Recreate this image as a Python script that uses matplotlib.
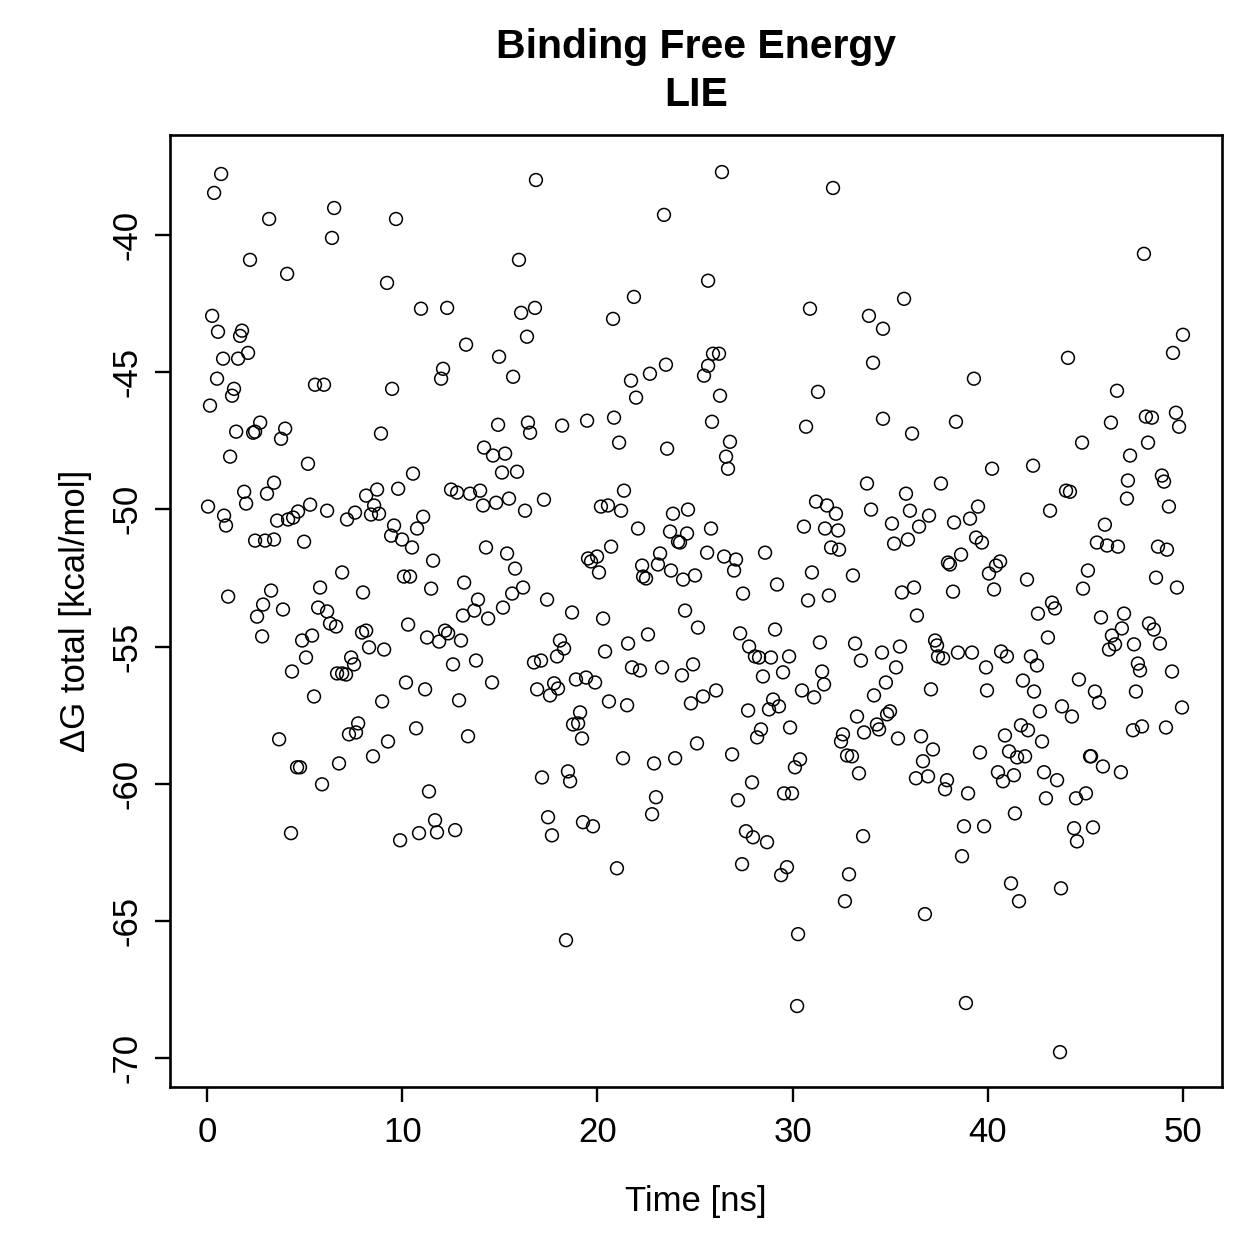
import matplotlib
matplotlib.use("Agg")
import matplotlib.pyplot as plt

# Time [ns] and Delta G total [kcal/mol]
time_ns = [
 0.72,0.36,6.51,3.18,6.40,2.20,4.10,0.26,0.56,1.79,1.69,0.82,1.59,2.10,0.51,1.38,1.28,0.15,5.53,5.99,
 1.49,2.36,2.46,2.72,4.00,3.79,1.18,5.17,3.43,3.07,1.90,2.00,0.05,0.87,0.97,3.59,5.28,4.66,4.41,4.15,
 6.15,7.17,7.58,2.46,2.97,3.43,4.97,6.92,1.08,3.28,2.87,3.89,5.79,5.69,6.15,2.56,7.99,
 2.82,6.30,6.61,7.94,8.15,5.38,4.87,5.07,4.35,7.38,7.53,6.66,6.92,7.12,5.48,7.74,7.27,7.63,3.69,4.61,4.76,6.76,5.89,4.30,
 16.85,9.68,15.98,9.22,10.96,12.30,16.09,16.80,16.39,13.27,14.96,12.09,11.99,15.68,9.48,8.91,14.91,16.44,16.55,14.19,
 14.65,15.27,15.11,15.88,10.55,8.15,8.71,8.56,9.79,12.50,12.81,13.47,13.99,14.14,14.81,15.47,16.29,8.40,8.81,9.58,
 11.07,10.76,9.43,9.99,10.50,11.58,14.29,15.37,15.78,10.09,10.40,11.48,13.17,16.19,15.63,13.88,13.69,13.11,14.40,15.16,
 10.30,8.30,9.07,11.27,12.19,12.35,11.89,13.01,12.60,13.78,16.75,17.11,10.19,11.17,8.97,12.91,14.60,16.91,10.71,9.27,
 13.37,8.50,11.37,11.68,10.86,11.78,12.71,9.89,
 23.41,25.67,21.87,20.80,23.51,22.69,21.72,21.98,25.46,25.67,25.92,26.23,25.87,18.19,19.47,20.85,21.11,23.57,17.26,21.36,
 20.18,20.54,21.21,23.87,24.64,22.08,23.72,24.59,24.13,24.23,25.82,20.70,25.62,19.52,19.67,19.98,20.08,23.21,23.10,22.29,
 22.34,22.49,23.77,24.39,25.00,17.42,18.70,20.29,24.49,
 25.15,22.59,21.57,18.08,18.29,17.93,20.39,21.77,22.18,23.31,24.33,24.90,17.78,17.98,17.57,18.90,19.42,19.88,20.59,21.52,
 24.79,25.41,19.11,18.75,19.01,19.21,25.10,21.31,22.90,23.98,17.16,18.49,18.60,23.00,22.80,17.47,17.67,19.26,19.77,21.00,18.39,
 26.38,32.07,30.89,33.91,34.63,34.12,31.30,26.28,30.69,34.63,26.79,26.59,26.69,33.81,31.20,31.76,32.22,34.02,30.58,31.66,
 32.33,26.49,27.10,27.00,28.59,31.97,32.38,30.99,33.09,27.46,29.20,30.79,31.86,
 27.31,29.10,27.77,28.07,28.28,28.89,29.82,31.40,33.20,34.58,33.50,28.48,29.51,31.51,31.61,30.48,31.10,26.08,27.72,29.00,
 28.79,29.30,34.17,34.78,29.87,28.38,28.18,32.58,32.48,33.30,33.66,34.32,34.43,34.84,34.99,26.90,30.38,30.12,32.79,33.04,
 33.40,27.92,27.20,29.56,29.97,27.61,27.97,28.69,33.61,27.41,29.71,29.41,32.89,32.68,30.28,30.23,
 35.71,39.29,38.37,36.12,40.22,42.32,37.60,35.81,36.01,36.99,36.48,35.09,35.20,35.91,38.27,39.09,39.50,39.40,39.70,43.19,
 37.96,38.06,38.63,40.63,40.42,40.06,42.01,35.60,36.22,38.22,40.32,36.37,42.57,43.29,43.44,
 48.00,50.00,49.49,44.11,46.62,46.31,48.10,48.41,49.64,49.80,44.83,48.21,47.29,47.18,47.13,48.92,49.03,49.28,44.01,44.21,
 46.00,45.59,46.11,46.67,48.72,49.18,45.13,44.88,48.62,49.69,
 43.08,37.30,37.40,37.45,37.71,38.47,39.19,35.50,35.30,40.68,40.98,42.21,42.52,39.91,37.09,39.96,41.80,42.37,42.67,43.80,
 35.40,36.58,37.19,39.60,40.88,41.70,42.06,42.78,41.09,41.50,41.91,36.68,36.32,36.94,37.91,37.81,38.99,40.52,40.78,41.34,
 42.88,43.55,42.98,41.39,38.78,39.81,38.68,41.19,41.60,43.75,36.78,38.88,43.70,
 45.80,46.98,46.87,46.36,48.26,48.51,48.82,47.49,46.21,46.52,47.69,47.80,49.44,44.67,45.49,45.70,47.59,44.31,49.95,47.44,
 47.90,49.13,45.24,45.29,45.90,46.82,44.52,45.03,44.42,44.57,45.39,
]
delta_g = [
 -37.78,-38.47,-39.02,-39.42,-40.11,-40.91,-41.42,-42.95,-43.53,-43.49,-43.68,-44.51,-44.51,-44.30,-45.24,-45.61,-45.86,-46.22,-45.46,-45.46,
 -47.17,-47.21,-47.17,-46.84,-47.06,-47.43,-48.08,-48.34,-49.03,-49.43,-49.36,-49.79,-49.90,-50.23,-50.59,-50.41,-49.83,-50.08,-50.30,-50.37,
 -50.05,-50.37,-50.12,-51.14,-51.14,-51.10,-51.18,-52.30,-53.18,-52.96,-53.47,-53.65,-52.85,-53.58,-53.72,-53.91,-53.03,
 -54.63,-54.16,-54.27,-54.49,-54.42,-54.60,-54.78,-55.40,-55.91,-55.40,-55.65,-55.98,-55.98,-56.02,-56.82,-57.80,-58.20,-58.13,-58.38,-59.40,-59.40,-59.26,-60.02,-61.80,
 -38.00,-39.42,-40.91,-41.75,-42.69,-42.66,-42.84,-42.66,-43.71,-44.00,-44.44,-44.88,-45.24,-45.17,-45.61,-47.24,-46.92,-46.84,-47.21,-47.75,
 -48.04,-47.97,-48.66,-48.63,-48.70,-49.50,-49.28,-49.86,-49.25,-49.28,-49.39,-49.43,-49.32,-49.86,-49.76,-49.61,-50.05,-50.19,-50.16,-50.59,
 -50.27,-50.70,-50.96,-51.10,-51.39,-51.87,-51.39,-51.61,-52.16,-52.45,-52.45,-52.89,-52.67,-52.85,-53.07,-53.29,-53.69,-53.87,-53.98,-53.58,
 -54.20,-55.03,-55.11,-54.67,-54.42,-54.52,-54.82,-54.78,-55.65,-55.51,-55.58,-55.51,-56.31,-56.56,-57.00,-56.96,-56.31,-56.56,-57.98,-58.46,
 -58.27,-59.00,-60.28,-61.33,-61.80,-61.77,-61.69,-62.06,
 -39.27,-41.67,-42.26,-43.06,-44.73,-45.06,-45.31,-45.93,-45.13,-44.77,-44.33,-44.33,-46.81,-46.95,-46.77,-46.66,-47.57,-47.79,-49.65,-49.32,
 -49.90,-49.86,-50.05,-50.16,-50.01,-50.70,-50.81,-50.88,-51.18,-51.21,-50.70,-51.36,-51.58,-51.79,-51.90,-51.72,-52.30,-51.61,-52.01,-52.05,
 -52.45,-52.52,-52.23,-52.56,-52.41,-53.29,-53.76,-53.98,-53.69,
 -54.31,-54.56,-54.89,-54.78,-55.07,-55.36,-55.18,-55.76,-55.87,-55.76,-56.05,-55.65,-56.34,-56.53,-56.78,-56.20,-56.13,-56.31,-57.00,-57.14,
 -57.07,-56.82,-57.40,-57.84,-57.80,-58.35,-58.53,-59.07,-59.26,-59.07,-59.77,-59.55,-59.91,-60.49,-61.11,-61.22,-61.88,-61.40,-61.55,-63.08,-65.70,
 -37.71,-38.29,-42.69,-42.95,-43.42,-44.66,-45.72,-45.86,-46.99,-46.70,-47.54,-48.08,-48.52,-49.06,-49.72,-49.86,-50.16,-50.01,-50.63,-50.70,
 -50.77,-51.72,-51.83,-52.23,-51.58,-51.39,-51.47,-52.30,-52.41,-53.07,-52.74,-53.32,-53.14,
 -54.52,-54.38,-55.00,-55.36,-55.40,-55.40,-55.36,-54.85,-54.89,-55.22,-55.51,-56.09,-55.94,-55.91,-56.38,-56.60,-56.85,-56.60,-57.33,-56.93,
 -57.29,-57.18,-56.78,-56.31,-57.95,-58.02,-58.31,-58.20,-58.46,-57.55,-58.13,-57.84,-58.02,-57.47,-57.36,-58.93,-59.11,-59.40,-58.97,-59.00,
 -59.62,-59.95,-60.60,-60.35,-60.35,-61.73,-61.95,-62.13,-61.91,-62.93,-63.04,-63.33,-63.30,-64.28,-65.48,-68.10,
 -42.33,-45.24,-46.81,-47.24,-48.52,-48.41,-49.06,-49.43,-50.05,-50.23,-50.63,-50.52,-51.25,-51.10,-50.48,-50.34,-49.90,-51.03,-51.21,-50.05,
 -51.94,-52.01,-51.65,-51.90,-52.05,-52.34,-52.56,-53.03,-52.85,-53.00,-52.92,-53.87,-53.80,-53.40,-53.61,
 -40.69,-43.64,-44.30,-44.48,-45.68,-46.84,-46.62,-46.66,-46.48,-46.99,-47.57,-47.57,-48.04,-48.95,-49.61,-48.77,-48.99,-49.90,-49.32,-49.36,
 -50.56,-51.21,-51.32,-51.36,-51.36,-51.47,-52.23,-52.89,-52.49,-52.85,
 -54.67,-54.78,-54.96,-55.36,-55.43,-55.22,-55.22,-55.00,-55.76,-55.18,-55.36,-55.36,-55.69,-55.76,-56.56,-56.60,-56.24,-56.64,-57.36,-57.18,
 -58.35,-58.27,-58.75,-58.86,-58.24,-57.87,-58.05,-58.46,-58.82,-59.04,-59.00,-59.18,-59.80,-59.73,-59.87,-60.20,-60.35,-59.58,-59.91,-59.69,
 -59.58,-59.87,-60.53,-61.08,-61.55,-61.55,-62.64,-63.63,-64.28,-63.81,-64.75,-67.99,-69.78,
 -53.94,-53.80,-54.34,-54.60,-54.16,-54.38,-54.89,-54.92,-55.11,-54.92,-55.62,-55.87,-55.91,-56.20,-56.64,-57.04,-56.64,-57.55,-57.22,-58.05,
 -57.91,-57.95,-59.00,-59.00,-59.37,-59.58,-60.53,-60.35,-61.62,-62.10,-61.59,
]

x_ticks = [0, 10, 20, 30, 40, 50]
y_ticks = [-70, -65, -60, -55, -50, -45, -40]
title_text = "Binding Free Energy\nLIE"
x_label = "Time [ns]"
y_label = "\u0394G total [kcal/mol]"

plt.rcParams['font.family'] = ['Liberation Sans', 'DejaVu Sans']

fig = plt.figure(figsize=(12.59, 12.59), dpi=100)
ax = fig.add_axes([170/1259, 1 - 1087/1259, (1222-170)/1259, (1087-135)/1259])

ax.scatter(time_ns, delta_g, s=85, facecolors='none', edgecolors='black', linewidths=1.1)

ax.set_xlim(-1.9, 52.0)
ax.set_ylim(-71.05, -36.36)
ax.set_xticks(x_ticks)
ax.set_yticks(y_ticks)
ax.set_xticklabels([str(v) for v in x_ticks])
ax.set_yticklabels([str(v) for v in y_ticks])

for sp in ax.spines.values():
    sp.set_linewidth(1.9)
ax.tick_params(axis='both', direction='out', length=11, width=1.7, labelsize=25, color='black')
ax.tick_params(axis='x', pad=10)
ax.tick_params(axis='y', pad=8)
for lab in ax.get_yticklabels():
    lab.set_rotation(90)
    lab.set_va('center')

fig.text(696/1259, 1 - 71/1259, title_text, ha='center', va='center', fontsize=29.5,
         fontweight='bold', linespacing=1.35)
fig.text(696/1259, 1 - 1201/1259, x_label, ha='center', va='center', fontsize=25)
fig.text(76/1259, 1 - 611/1259, y_label, ha='center', va='center', fontsize=25, rotation=90)

fig.savefig("out.png", dpi=100)
